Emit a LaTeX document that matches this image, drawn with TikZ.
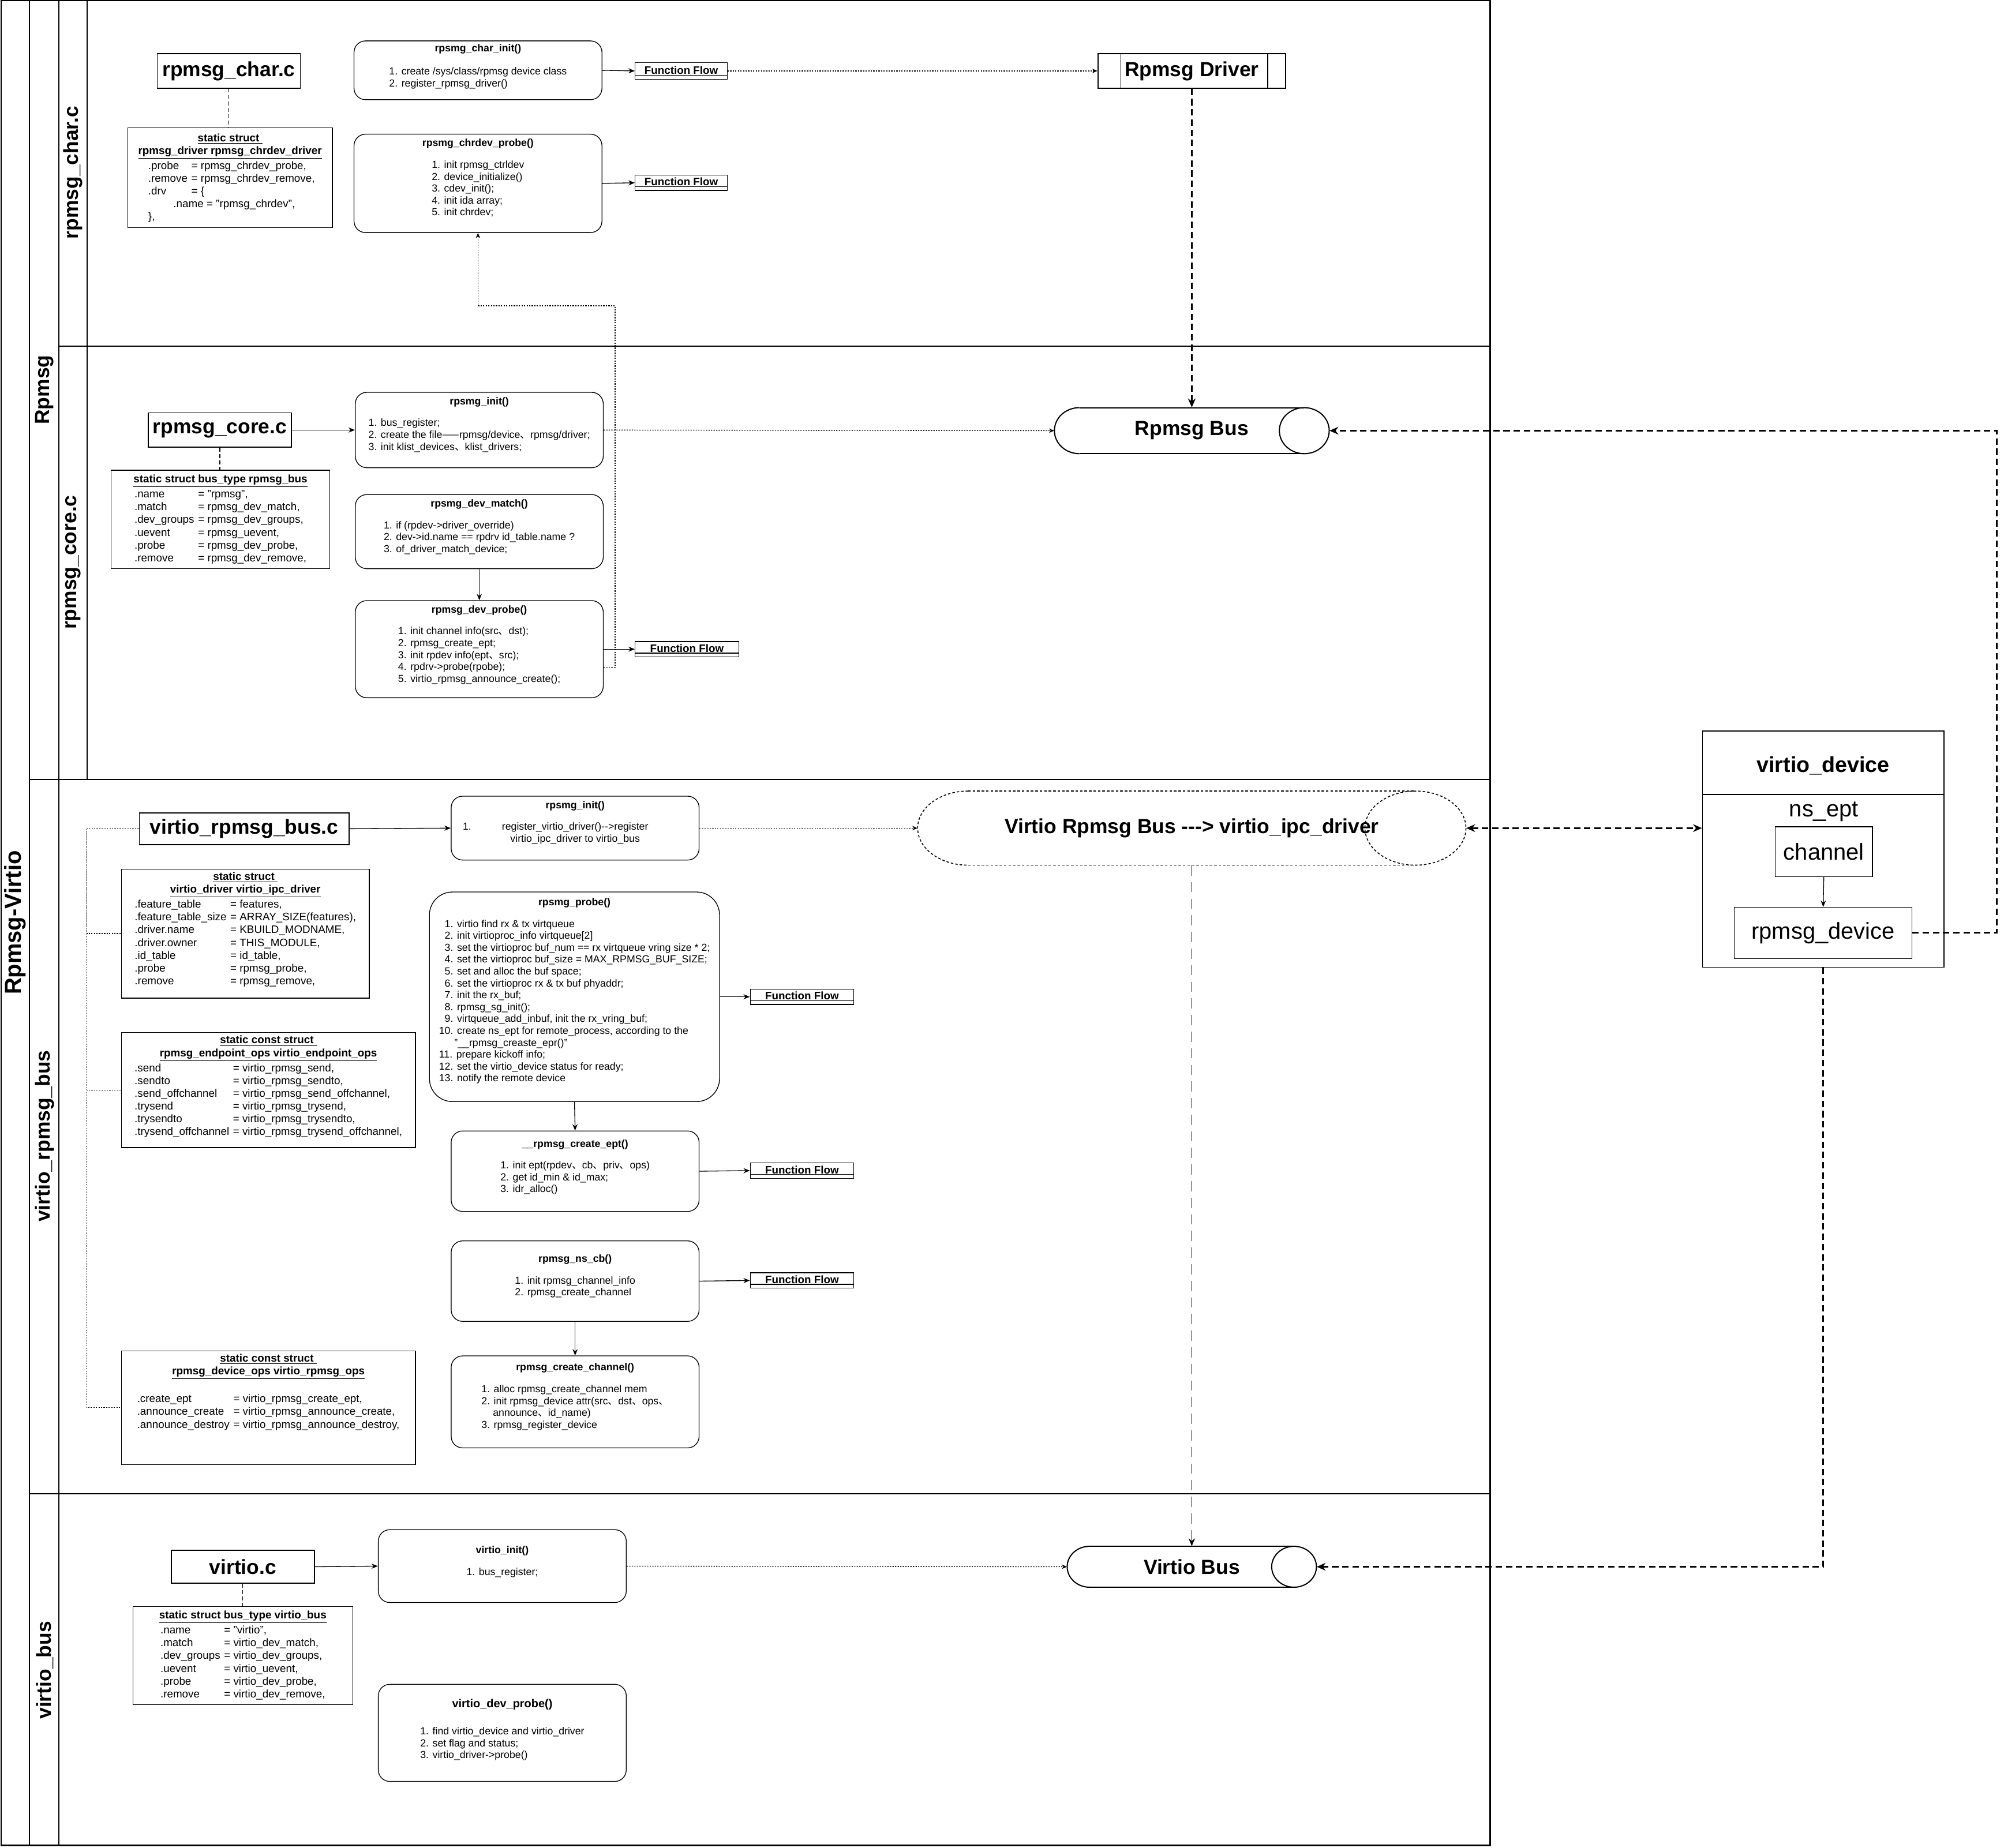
\documentclass[tikz,border=0pt]{standalone}
\usepackage{fontspec}
\setmainfont{Liberation Sans}
\newfontfamily\cjk{Noto Sans CJK SC}
\usetikzlibrary{shapes.geometric,arrows.meta,positioning}

\newcommand{\dunhao}{{\cjk 、}}
% function box text: width, height, top pad, title gap, title, items
\newcommand{\fnbody}[6]{\begin{minipage}[c][#2pt][t]{#1pt}\centering
  \vspace*{#3pt}{\bfseries #5}\par\vspace{#4pt}%
  \begin{tabular}[t]{@{}l@{}}#6\end{tabular}\end{minipage}}
% struct box text: width, height, top pad, title lines, fields
\newcommand{\stbody}[5]{\begin{minipage}[c][#2pt][t]{#1pt}\centering
  \vspace*{#3pt}#4\par
  \begin{tabular}[t]{@{}l@{\hspace{3pt}}l@{}}#5\end{tabular}\end{minipage}}
\newcommand{\sttitle}[1]{\underline{\textbf{#1}}}
% bus cylinder outline: options, left x, right x, top y, bottom y, cap radius
\newcommand{\drawbus}[6][]{%
  \draw[#1] ({#2+#6},#4) -- ({#3-#6},#4);
  \draw[#1] ({#2+#6},#5) -- ({#3-#6},#5);
  \draw[#1] ({#2+#6},#4) .. controls ({#2+0.4477*#6},#4) and (#2,{(#4+#5)/2-0.5523*(#5-#4)/2}) .. (#2,{(#4+#5)/2})
    .. controls (#2,{(#4+#5)/2+0.5523*(#5-#4)/2}) and ({#2+0.4477*#6},#5) .. ({#2+#6},#5);
  \draw[#1] ({#3-#6},{(#4+#5)/2}) ellipse [x radius=#6, y radius={(#5-#4)/2}];}

\tikzset{
  lane/.style={line width=0.8pt},
  lanelabel/.style={rotate=90, font=\bfseries\fontsize{16}{18}\selectfont},
  filebox/.style={draw, line width=0.8pt, inner sep=0pt, font=\bfseries\fontsize{16}{18}\selectfont},
  fnbox/.style={draw, rounded corners=9pt, line width=0.6pt, inner sep=0pt, font=\fontsize{8}{9.3}\selectfont},
  structbox/.style={draw, line width=0.6pt, inner sep=0pt, font=\fontsize{8.5}{10}\selectfont},
  flowbox/.style={draw, line width=0.6pt, inner sep=0pt, minimum height=12pt,
    font=\bfseries\fontsize{8.5}{10}\selectfont,
    path picture={\draw[line width=0.6pt] ([yshift=3pt]path picture bounding box.south west) -- ([yshift=3pt]path picture bounding box.south east);}},
  procbox/.style={draw, line width=0.8pt, inner sep=0pt, font=\bfseries\fontsize{16}{18}\selectfont,
    path picture={\draw ([xshift=18pt]path picture bounding box.north west) -- ([xshift=18pt]path picture bounding box.south west);
                  \draw ([xshift=-14pt]path picture bounding box.north east) -- ([xshift=-14pt]path picture bounding box.south east);}},
  busnode/.style={inner sep=0pt, font=\bfseries\fontsize{16}{18}\selectfont},
  busline/.style={line width=0.9pt},
  devbox/.style={draw, line width=0.6pt, inner sep=0pt},
  plainbox/.style={draw, line width=0.6pt, inner sep=0pt, font=\fontsize{18}{20}\selectfont},
  arr/.style={line width=0.6pt, -{Stealth[length=5pt,width=4pt]}},
  dotline/.style={line width=0.6pt, dash pattern=on 1pt off 1pt},
  dotarr/.style={dotline, -{Stealth[length=4pt,width=3.5pt]}},
  dashline/.style={line width=0.5pt, dash pattern=on 3pt off 2pt},
  thickdash/.style={line width=1.3pt, dash pattern=on 5pt off 3pt, -{Stealth[length=7pt,width=6pt]}},
  thindash/.style={line width=0.8pt, dash pattern=on 8pt off 5pt, -{Stealth[length=6pt,width=5pt]}},
}

\begin{document}
\catcode`\_=12
\begin{tikzpicture}[x=1pt,y=1pt,yscale=-1]
\useasboundingbox (0,0) rectangle (1568,1446);

%Shape: Pool and lanes
\draw[lane, line width=1.1pt] (1,0.5) rectangle (1166,1444);
\draw[lane] (23,0.5) -- (23,1444);
\draw[lane] (46,0.5) -- (46,1444);
\draw[lane] (68,0.5) -- (68,610);
\draw[lane] (46,271) -- (1166,271);
\draw[lane] (23,610) -- (1166,610);
\draw[lane] (23,1169) -- (1166,1169);

% Lane labels
\node[lanelabel, font=\bfseries\fontsize{18}{20}\selectfont] (poolname) at (12,722) {Rpmsg-Virtio};
\node[lanelabel] (lanerpmsg) at (35,305) {Rpmsg};
\node[lanelabel] (lanechar) at (57,135) {rpmsg_char.c};
\node[lanelabel] (lanecore) at (57,440) {rpmsg_core.c};
\node[lanelabel] (lanevrb) at (35,889) {virtio_rpmsg_bus};
\node[lanelabel] (lanevb) at (35,1307) {virtio_bus};

%--- rpmsg_char.c lane
\node[filebox, minimum width=112pt, minimum height=27pt] (charc) at (179,55.5) {rpmsg_char.c};
\node[structbox] (chardrv) at (180,139) {\stbody{160}{78}{4.5}{\sttitle{static struct }\\\sttitle{rpmsg_driver rpmsg_chrdev_driver}}{%
  \ .probe & = rpmsg_chrdev_probe,\\
  \ .remove & = rpmsg_chrdev_remove,\\
  \ .drv & = \{\\
  \multicolumn{2}{@{}l@{}}{\hspace{22pt}.name = "rpmsg_chrdev",}\\
  \ \}, & }};
\node[fnbox] (charinit) at (374,55) {\fnbody{194}{46}{2.8}{8.7}{rpsmg_char_init()}{%
  1. create /sys/class/rpmsg device class\\
  2. register_rpmsg_driver()}};
\node[fnbox] (chrprobe) at (374,143.5) {\fnbody{194}{77}{3.8}{7.7}{rpsmg_chrdev_probe()}{%
  1. init rpmsg_ctrldev\\
  2. device_initialize()\\
  3. cdev_init();\\
  4. init ida array;\\
  5. init chrdev;}};
\node[flowbox, minimum width=72pt, minimum height=13pt] (ffchar) at (533,55.5) {\raisebox{1.5pt}{Function Flow}};
\node[flowbox, minimum width=72pt] (ffchrdev) at (533,143) {\raisebox{1.5pt}{Function Flow}};
\node[procbox, minimum width=147pt, minimum height=27pt] (rpdrv) at (932.5,55.5) {Rpmsg Driver};

\draw[dashline] (charc.south) -- (charc.south |- chardrv.north);
\draw[arr] (charinit.east) -- (ffchar.west);
\draw[arr] (chrprobe.east) -- (ffchrdev.west);
\draw[dotarr] (ffchar.east) -- (rpdrv.west);

%--- rpmsg_core.c lane
\node[filebox, minimum width=112pt, minimum height=27pt] (corec) at (172,336.5) {rpmsg_core.c};
\node[structbox] (rpbusst) at (172.5,406.5) {\stbody{171}{77}{3.5}{\sttitle{static struct bus_type rpmsg_bus}}{%
  .name & = "rpmsg",\\
  .match & = rpmsg_dev_match,\\
  .dev_groups & = rpmsg_dev_groups,\\
  .uevent & = rpmsg_uevent,\\
  .probe & = rpmsg_dev_probe,\\
  .remove & = rpmsg_dev_remove,}};
\node[fnbox] (rpinit) at (375,336.5) {\fnbody{194}{59}{3.8}{7.7}{rpsmg_init()}{%
  1. bus_register;\\
  2. create the file{\cjk ——}rpmsg/device\dunhao rpmsg/driver;\\
  3. init klist_devices\dunhao klist_drivers;}};
\node[fnbox] (devmatch) at (375,416) {\fnbody{194}{58}{3.8}{7.7}{rpsmg_dev_match()}{%
  1. if (rpdev->driver_override)\\
  2. dev->id.name == rpdrv id_table.name ?\\
  3. of_driver_match_device;}};
\node[fnbox] (devprobe) at (375,508) {\fnbody{194}{76}{3.8}{7.7}{rpmsg_dev_probe()}{%
  1. init channel info(src\dunhao dst);\\
  2. rpmsg_create_ept;\\
  3. init rpdev info(ept\dunhao src);\\
  4. rpdrv->probe(rpobe);\\
  5. virtio_rpmsg_announce_create();}};
\node[flowbox, minimum width=81pt] (ffdevprobe) at (537.5,508) {\raisebox{1.5pt}{Function Flow}};
%Shape: Can
\drawbus[busline]{825}{1040}{319}{355}{19.5}
\node[busnode, minimum width=215pt, minimum height=36pt] (rpbus) at (932.5,337) {Rpmsg Bus};

\draw[dashline] (corec.south) -- (corec.south |- rpbusst.north);
\draw[arr] (corec.east) -- (rpinit.west);
\draw[dotarr] (rpinit.east) -- (rpbus.west);
\draw[arr] (devmatch.south) -- (devprobe.north);
\draw[arr] (devprobe.east) -- (ffdevprobe.west);
\draw[dotarr] ([yshift=14pt]devprobe.east) -- ++(9,0) |- ([yshift=57pt]chrprobe.south) -- (chrprobe.south);
\draw[thickdash] (rpdrv.south) -- (rpbus.north);

%--- virtio_rpmsg_bus lane
\node[filebox, minimum width=164pt, minimum height=25pt] (rbusc) at (191,648.5) {virtio_rpmsg_bus.c};
\node[structbox] (ipcdrv) at (192,730.5) {\stbody{194}{101}{2.5}{\sttitle{static struct }\\\sttitle{virtio_driver virtio_ipc_driver}}{%
  .feature_table & = features,\\
  .feature_table_size & = ARRAY_SIZE(features),\\
  .driver.name & = KBUILD_MODNAME,\\
  .driver.owner & = THIS_MODULE,\\
  .id_table & = id_table,\\
  .probe & = rpmsg_probe,\\
  .remove & = rpmsg_remove,}};
\node[structbox] (epops) at (210,853) {\stbody{230}{90}{2.5}{\sttitle{static const struct }\\\sttitle{rpmsg_endpoint_ops virtio_endpoint_ops}}{%
  .send & = virtio_rpmsg_send,\\
  .sendto & = virtio_rpmsg_sendto,\\
  .send_offchannel & = virtio_rpmsg_send_offchannel,\\
  .trysend & = virtio_rpmsg_trysend,\\
  .trysendto & = virtio_rpmsg_trysendto,\\
  .trysend_offchannel & = virtio_rpmsg_trysend_offchannel,}};
\node[structbox] (devops) at (210,1101.5) {\stbody{230}{89}{2.5}{\sttitle{static const struct }\\\sttitle{rpmsg_device_ops virtio_rpmsg_ops}}{%
  & \\
  .create_ept & = virtio_rpmsg_create_ept,\\
  .announce_create & = virtio_rpmsg_announce_create,\\
  .announce_destroy & = virtio_rpmsg_announce_destroy,}};
\node[fnbox] (vrinit) at (450,648) {\fnbody{194}{50}{3.8}{7.7}{rpsmg_init()}{%
  \makebox[0pt][r]{1.\hspace{24pt}}\begin{tabular}[t]{@{}c@{}}register_virtio_driver()-{}->register\\virtio_ipc_driver to virtio_bus\end{tabular}}};
\node[fnbox, rounded corners=18pt] (rpprobe) at (449.5,780) {\fnbody{227}{164}{4.8}{7.7}{rpsmg_probe()}{%
  \phantom{1}1. virtio find rx \& tx virtqueue\\
  \phantom{1}2. init virtioproc_info virtqueue[2]\\
  \phantom{1}3. set the virtioproc buf_num == rx virtqueue vring size * 2;\\
  \phantom{1}4. set the virtioproc buf_size = MAX_RPMSG_BUF_SIZE;\\
  \phantom{1}5. set and alloc the buf space;\\
  \phantom{1}6. set the virtioproc rx \& tx buf phyaddr;\\
  \phantom{1}7. init the rx_buf;\\
  \phantom{1}8. rpmsg_sg_init();\\
  \phantom{1}9. virtqueue_add_inbuf, init the rx_vring_buf;\\
  10. create ns_ept for remote_process, according to the\\
  \hspace{12pt}"__rpmsg_creaste_epr()"\\
  11. prepare kickoff info;\\
  12. set the virtio_device status for ready;\\
  13. notify the remote device}};
\node[fnbox] (createept) at (450,916.5) {\fnbody{194}{63}{6.8}{7.7}{__rpmsg_create_ept()}{%
  1. init ept(rpdev\dunhao cb\dunhao priv\dunhao ops)\\
  2. get id_min \& id_max;\\
  3. idr_alloc()}};
\node[fnbox] (nscb) at (450,1002.5) {\fnbody{194}{63}{10.8}{7.7}{rpmsg_ns_cb()}{%
  1. init rpmsg_channel_info\\
  2. rpmsg_create_channel}};
\node[fnbox] (createch) at (450,1097) {\fnbody{194}{72}{5.8}{7.7}{rpmsg_create_channel()}{%
  1. alloc rpmsg_create_channel mem\\
  2. init rpmsg_device attr(src\dunhao dst\dunhao ops\dunhao\\
  \hspace{9pt}announce\dunhao id_name)\\
  3. rpmsg_register_device}};
\node[flowbox, minimum width=81pt] (ffprobe) at (627.5,780) {\raisebox{1.5pt}{Function Flow}};
\node[flowbox, minimum width=81pt] (ffept) at (627.5,916) {\raisebox{1.5pt}{Function Flow}};
\node[flowbox, minimum width=81pt] (ffnscb) at (627.5,1002) {\raisebox{1.5pt}{Function Flow}};
%Shape: Can (dashed)
\drawbus[line width=0.7pt, dash pattern=on 2pt off 1.5pt]{718}{1147}{619}{677}{39.5}
\node[busnode, minimum width=429pt, minimum height=58pt] (vrbus) at (932.5,648) {Virtio Rpmsg Bus -{}-{}-{}> virtio_ipc_driver};

\coordinate (rtrunk) at (68,648.5);
\draw[dotline] (rbusc.west) -- (rtrunk) |- (ipcdrv.west);
\draw[dotline] (rtrunk) |- (epops.west);
\draw[dotline] (rtrunk) |- (devops.west);
\draw[arr] (rbusc.east) -- (vrinit.west);
\draw[dotarr] (vrinit.east) -- (vrbus.west);
\draw[arr] (rpprobe.east) -- (ffprobe.west);
\draw[arr] (rpprobe.south) -- (createept.north);
\draw[arr] (createept.east) -- (ffept.west);
\draw[arr] (nscb.east) -- (ffnscb.west);
\draw[arr] (nscb.south) -- (createch.north);

%--- virtio_bus lane
\node[filebox, minimum width=112pt, minimum height=26pt] (virtc) at (190,1226) {virtio.c};
\node[structbox] (virtbusst) at (190,1295.5) {\stbody{172}{77}{3.5}{\sttitle{static struct bus_type virtio_bus}}{%
  .name & = "virtio",\\
  .match & = virtio_dev_match,\\
  .dev_groups & = virtio_dev_groups,\\
  .uevent & = virtio_uevent,\\
  .probe & = virtio_dev_probe,\\
  .remove & = virtio_dev_remove,}};
\node[fnbox] (vinit) at (393,1225.5) {\fnbody{194}{57}{12.8}{7.7}{virtio_init()}{%
  1. bus_register;}};
\node[fnbox] (vdevprobe) at (393,1356) {\fnbody{194}{76}{11.8}{11.7}{\fontsize{9}{9.3}\selectfont virtio_dev_probe()}{%
  1. find virtio_device and virtio_driver\\
  2. set flag and status;\\
  3. virtio_driver->probe()}};
%Shape: Can
\drawbus[busline]{835}{1030}{1210}{1242}{17.5}
\node[busnode, minimum width=195pt, minimum height=32pt] (vbus) at (932.5,1226) {Virtio Bus};

\draw[dashline] (virtc.south) -- (virtc.south |- virtbusst.north);
\draw[arr] (virtc.east) -- (vinit.west);
\draw[dotarr] (vinit.east) -- (vbus.west);
\draw[thindash] (vrbus.south) -- (vbus.north);

%--- virtio_device
\node[devbox, minimum width=189pt, minimum height=185pt] (vdev) at (1426.5,664.5) {};
\draw[line width=0.6pt] ([yshift=50pt]vdev.north west) -- ([yshift=50pt]vdev.north east);
\node[font=\bfseries\fontsize{17}{19}\selectfont] (vdevtitle) at (1426.5,599) {virtio_device};
\node[font=\fontsize{18}{20}\selectfont] (nsept) at (1427,635) {ns_ept};
\node[plainbox, minimum width=76pt, minimum height=39pt] (chan) at (1427,666.5) {channel};
\node[plainbox, minimum width=139pt, minimum height=40pt] (rpdevice) at (1426.5,730) {rpmsg_device};

\draw[arr] (chan.south) -- (rpdevice.north);
\draw[thickdash, {Stealth[length=7pt,width=6pt]}-{Stealth[length=7pt,width=6pt]}] (vrbus.east) -- (vrbus.east -| vdev.west);
\draw[thickdash] (rpdevice.east) -- ++(66,0) |- (rpbus.east);
\draw[thickdash] (vdev.south) |- (vbus.east);

\end{tikzpicture}
\end{document}
